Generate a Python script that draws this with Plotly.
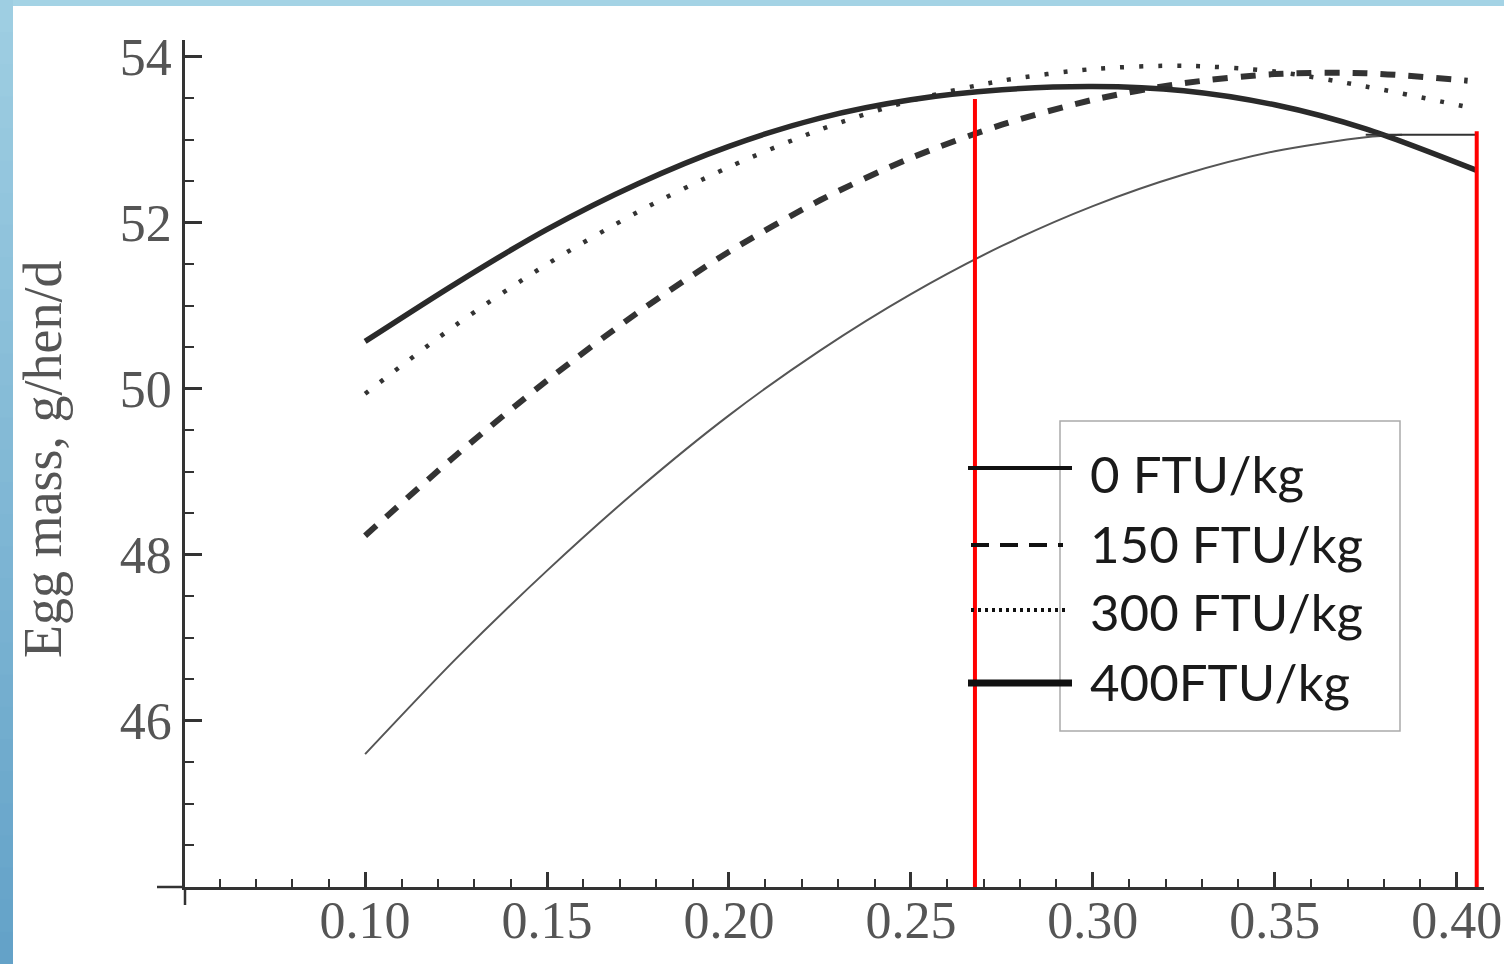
import plotly.graph_objects as go

# ---------------- data ----------------
series_names = ["0 FTU/kg", "150 FTU/kg", "300 FTU/kg", "400FTU/kg"]

x_common = [0.100, 0.125, 0.150, 0.175, 0.200, 0.225, 0.250, 0.275, 0.300, 0.325, 0.350, 0.375]

ftu0_x = x_common + [0.385]
ftu0_y = [45.60, 46.75, 47.81, 48.79, 49.68, 50.46, 51.14, 51.72, 52.20, 52.58, 52.86, 53.03, 53.06]

ftu150_x = x_common + [0.403]
ftu150_y = [48.23, 49.20, 50.10, 50.92, 51.65, 52.27, 52.78, 53.18, 53.48, 53.68, 53.79, 53.80, 53.71]

ftu300_x = x_common + [0.4055]
ftu300_y = [49.94, 50.77, 51.50, 52.13, 52.67, 53.12, 53.47, 53.71, 53.85, 53.89, 53.82, 53.64, 53.37]

ftu400_x = x_common + [0.4055]
ftu400_y = [50.57, 51.27, 51.92, 52.47, 52.92, 53.26, 53.48, 53.60, 53.64, 53.59, 53.42, 53.13, 52.63]

# red marker lines (x position, top value)
red_x = [0.2676, 0.4055]
red_top = [53.49, 53.10]
# horizontal guide at the 0 FTU/kg plateau
plateau_x = [0.375, 0.4055]
plateau_y = 53.06

x_ticks = [0.10, 0.15, 0.20, 0.25, 0.30, 0.35, 0.40]
x_tick_text = ["0.10", "0.15", "0.20", "0.25", "0.30", "0.35", "0.40"]
y_ticks = [46, 48, 50, 52, 54]
y_tick_text = ["46", "48", "50", "52", "54"]
y_title = "Egg mass, g/hen/d"

# ---------------- layout geometry ----------------
W, H = 1504, 964
L, R, T, B = 185, 1484, 40, 887


def px(xp):
    return (xp - L) / (R - L)


def py(yp):
    return (B - yp) / (B - T)


fig = go.Figure()

styles = [
    dict(color="#555555", width=2),
    dict(color="#333333", width=6, dash="15px,13px"),
    dict(color="#333333", width=4.5, dash="4px,15px"),
    dict(color="#2a2a2a", width=5.5),
]
xs = [ftu0_x, ftu150_x, ftu300_x, ftu400_x]
ys = [ftu0_y, ftu150_y, ftu300_y, ftu400_y]
for name, xv, yv, st in zip(series_names, xs, ys, styles):
    fig.add_trace(go.Scatter(x=xv, y=yv, mode="lines", name=name,
                             line=dict(shape="spline", smoothing=0.8, **st),
                             showlegend=False, hoverinfo="skip"))

shapes = []

# blue page border (top strip and left gradient strip)
shapes.append(dict(type="rect", xref="paper", yref="paper", layer="below",
                   x0=px(0), x1=px(W), y0=py(6), y1=py(0),
                   fillcolor="#a4d3e5", line=dict(width=0)))
n_strips = 30
c_top = (158, 206, 226)
c_bot = (100, 162, 200)
for i in range(n_strips):
    f = i / (n_strips - 1)
    c = tuple(int(round(c_top[k] + (c_bot[k] - c_top[k]) * f)) for k in range(3))
    y0p = i * H / n_strips
    y1p = (i + 1) * H / n_strips
    shapes.append(dict(type="rect", xref="paper", yref="paper", layer="below",
                       x0=px(0), x1=px(13), y0=py(y1p + 1), y1=py(y0p),
                       fillcolor="rgb(%d,%d,%d)" % c, line=dict(width=0)))

# axis extensions (Mathematica style crossing)
shapes.append(dict(type="line", xref="paper", yref="paper",
                   x0=px(157), x1=px(L), y0=0, y1=0,
                   line=dict(color="#333333", width=2.5)))
shapes.append(dict(type="line", xref="paper", yref="paper",
                   x0=0, x1=0, y0=py(905), y1=0,
                   line=dict(color="#333333", width=2.5)))

# plateau guide
shapes.append(dict(type="line", xref="x", yref="y",
                   x0=plateau_x[0], x1=plateau_x[1], y0=plateau_y, y1=plateau_y,
                   line=dict(color="#333333", width=2)))

# red vertical lines
for xr, yt in zip(red_x, red_top):
    shapes.append(dict(type="line", xref="x", yref="y",
                       x0=xr, x1=xr, y0=44, y1=yt,
                       line=dict(color="#ff0000", width=4)))

# manual legend
shapes.append(dict(type="rect", xref="paper", yref="paper",
                   x0=px(1060), x1=px(1400), y0=py(731), y1=py(421),
                   fillcolor="rgba(255,255,255,0)", line=dict(color="#aaaaaa", width=1.5)))
leg_y = [468, 545, 610, 683]
leg_x = [(968, 1072), (971, 1063), (971, 1069), (968, 1072)]
leg_styles = [
    dict(color="#111111", width=4),
    dict(color="#111111", width=4, dash="18px,11px"),
    dict(color="#111111", width=4, dash="3px,4px"),
    dict(color="#111111", width=7),
]
annotations = []
text_y = [473, 543, 611, 681]
for (x0l, x1l), yl, st, name, ty in zip(leg_x, leg_y, leg_styles, series_names, text_y):
    shapes.append(dict(type="line", xref="paper", yref="paper",
                       x0=px(x0l), x1=px(x1l), y0=py(yl), y1=py(yl), line=st))
    annotations.append(dict(xref="paper", yref="paper", x=px(1088), y=py(ty),
                            xanchor="left", yanchor="middle", showarrow=False,
                            text=name, font=dict(family="Lato", size=51, color="#1a1a1a")))

annotations.append(dict(xref="paper", yref="paper", x=px(43), y=py(460),
                        xanchor="center", yanchor="middle", showarrow=False,
                        textangle=-90, text=y_title,
                        font=dict(family="Liberation Serif", size=54, color="#555555")))

tick_font = dict(family="Liberation Serif", size=52, color="#555555")

fig.update_layout(
    width=W, height=H,
    margin=dict(l=L, r=W - R, t=T, b=H - B, autoexpand=False),
    paper_bgcolor="white", plot_bgcolor="white",
    shapes=shapes, annotations=annotations,
    xaxis=dict(range=[0.0505, 0.4075], showgrid=False, zeroline=False,
               showline=True, linecolor="#333333", linewidth=2.5,
               tickmode="array", tickvals=x_ticks, ticktext=x_tick_text,
               ticks="inside", ticklen=15, tickwidth=2.5, tickcolor="#333333",
               tickfont=tick_font, ticklabelstandoff=-14,
               minor=dict(tickmode="linear", tick0=0.05, dtick=0.01,
                          ticks="inside", ticklen=8, tickwidth=2, tickcolor="#333333",
                          showgrid=False)),
    yaxis=dict(range=[44, 54.2], showgrid=False, zeroline=False,
               showline=True, linecolor="#333333", linewidth=2.5,
               tickmode="array", tickvals=y_ticks, ticktext=y_tick_text,
               ticks="inside", ticklen=17, tickwidth=2.5, tickcolor="#333333",
               tickfont=tick_font, ticklabelstandoff=0,
               minor=dict(tickmode="linear", tick0=44, dtick=0.5,
                          ticks="inside", ticklen=9, tickwidth=2, tickcolor="#333333",
                          showgrid=False)),
)

fig.write_html("out.html")
